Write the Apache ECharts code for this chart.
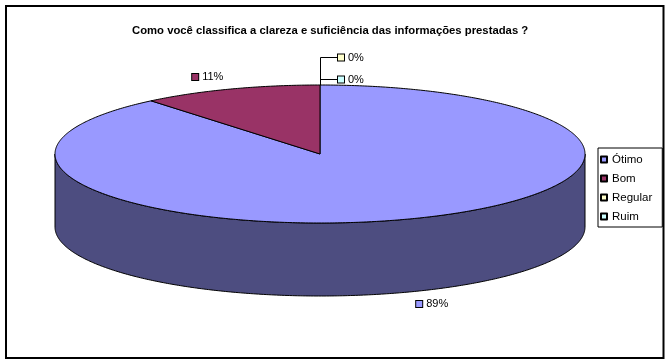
<!DOCTYPE html>
<html>
<head>
<meta charset="utf-8">
<script src="https://cdn.jsdelivr.net/npm/echarts@6/dist/echarts.min.js"></script>
<style>
html,body{margin:0;padding:0;background:#fff;}
#main{width:670px;height:364px;}
</style>
</head>
<body>
<div id="main"></div>
<script>
// ---- data ----
const titleText = 'Como você classifica a clareza e suficiência das informações prestadas ?';
const categories = ['Ótimo', 'Bom', 'Regular', 'Ruim'];
const values = [89, 11, 0, 0];
const topColors = ['#9999FF', '#993366', '#FFFFCC', '#CCFFFF'];
const sideColors = ['#4D4D80', '#4D1A33', '#808066', '#668080'];

// ---- layout (style constants) ----
const CX = 320, CY = 154, RX = 265, RY = 69, DEPTH = 73;
const FONT = '"Liberation Sans", Arial, sans-serif';

const total = values.reduce((a, b) => a + b, 0);
const starts = [];
let acc = 0;
values.forEach(v => { starts.push(acc / total * 2 * Math.PI); acc += v; });
const zeroIdx = values.map((v, i) => v === 0 ? i : -1).filter(i => i >= 0);

function pt(a, dy) { return [CX + RX * Math.sin(a), CY - RY * Math.cos(a) + (dy || 0)]; }
function arc(a0, a1, dy) {
  const n = Math.max(2, Math.ceil((a1 - a0) / 0.01));
  const pts = [];
  for (let i = 0; i <= n; i++) pts.push(pt(a0 + (a1 - a0) * i / n, dy));
  return pts;
}

const seriesData = values.map((v, i) => ({ name: categories[i], value: v }));

function renderWall(params, api) {
  const i = params.dataIndex;
  const v = api.value(0);
  const a0 = starts[i], a1 = a0 + v / total * 2 * Math.PI;
  const lo = Math.max(a0, Math.PI / 2), hi = Math.min(a1, 3 * Math.PI / 2);
  if (!(v > 0) || hi <= lo) return { type: 'group', children: [] };
  const pts = arc(lo, hi, 0).concat(arc(lo, hi, DEPTH).reverse());
  return {
    type: 'polygon',
    shape: { points: pts },
    style: { fill: sideColors[i], stroke: '#000', lineWidth: 1 }
  };
}

function labelRich(i) {
  return {
    m: { width: 6, height: 6, backgroundColor: topColors[i], borderColor: '#000', borderWidth: 1 },
    t: { fontFamily: FONT, fontSize: 11, fill: '#000', padding: [0, 0, 0, 4] }
  };
}

function renderTop(params, api) {
  const i = params.dataIndex;
  const v = api.value(0);
  const a0 = starts[i], a1 = a0 + v / total * 2 * Math.PI;
  const children = [];
  const pct = Math.round(v / total * 100) + '%';
  if (v > 0) {
    children.push({
      type: 'polygon',
      shape: { points: [[CX, CY]].concat(arc(a0, a1, 0)) },
      style: { fill: topColors[i], stroke: '#000', lineWidth: 1 }
    });
    const mid = (a0 + a1) / 2;
    const c = Math.cos(mid);
    const lx = CX + RX * Math.sin(mid) * 1.25;
    const ly = c < 0 ? CY + DEPTH - RY * c * 1.186 : CY - RY * c * 1.186;
    children.push({
      type: 'text', z2: 10,
      style: {
        x: lx, y: ly, text: '{m|}{t|' + pct + '}',
        align: 'center', verticalAlign: 'middle',
        rich: labelRich(i)
      }
    });
  } else {
    const j = zeroIdx.indexOf(i);
    const y = CY - RY - 6 - 22 * (zeroIdx.length - 1 - j);
    children.push({
      type: 'polyline',
      shape: { points: [[CX + 0.5, CY - RY], [CX + 0.5, y + 0.5], [CX + 17, y + 0.5]] },
      style: { stroke: '#000', lineWidth: 1, fill: null }
    });
    children.push({
      type: 'text', z2: 10,
      style: {
        x: CX + 18, y: y + 0.5, text: '{m|}{t|' + pct + '}',
        align: 'left', verticalAlign: 'middle',
        rich: labelRich(i)
      }
    });
  }
  return { type: 'group', children };
}

const chart = echarts.init(document.getElementById('main'), null, { renderer: 'canvas' });
chart.setOption({
  backgroundColor: '#fff',
  animation: false,
  title: {
    text: titleText,
    left: 127, top: 20,
    textStyle: { fontFamily: FONT, fontSize: 11.3, fontWeight: 'bold', color: '#000' }
  },
  legend: {
    orient: 'vertical',
    left: 598, top: 148,
    data: categories,
    itemWidth: 6, itemHeight: 6, itemGap: 6,
    padding: [5, 10, 4, 2],
    borderColor: '#000', borderWidth: 1,
    textStyle: { fontFamily: FONT, fontSize: 11.5, color: '#000', lineHeight: 13 },
    icon: 'rect'
  },
  graphic: [{
    type: 'rect', silent: true, z: -1,
    shape: { x: 6, y: 6, width: 657.5, height: 352 },
    style: { fill: null, stroke: '#000', lineWidth: 2 }
  }],
  series: [
    {
      type: 'pie', name: 'legendProxy',
      center: [-200, -200], radius: [0, 0],
      label: { show: false }, labelLine: { show: false },
      silent: true,
      data: values.map((v, i) => ({ name: categories[i], value: v, itemStyle: { color: topColors[i], borderColor: '#000', borderWidth: 1 } })),
      stillShowZeroSum: true
    },
    {
      type: 'custom', name: 'walls', coordinateSystem: 'none',
      renderItem: renderWall, data: seriesData, silent: true, z: 2
    },
    {
      type: 'custom', name: 'tops', coordinateSystem: 'none',
      renderItem: renderTop, data: seriesData, silent: true, z: 3
    }
  ]
});
</script>
</body>
</html>
